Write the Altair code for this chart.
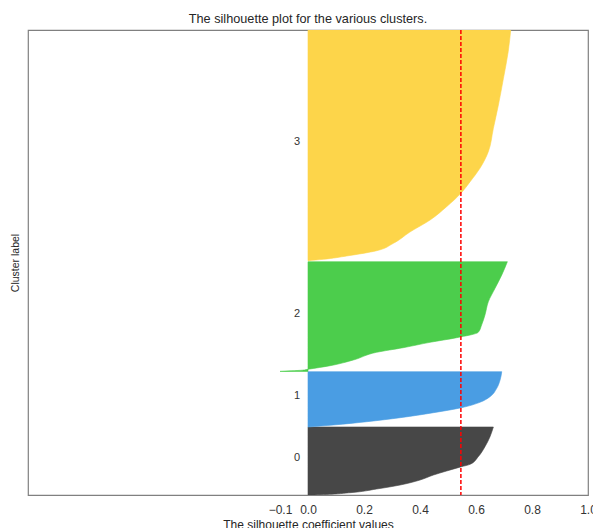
import altair as alt
import pandas as pd

# ---- data ----
cluster_labels = ["0", "1", "2", "3"]

# silhouette profile of each cluster: sample position (y) and silhouette value (x)
c0_pos = [0, 0.3, 2.3, 6, 10, 15, 20, 24, 28.3, 30.7, 38.3, 48.3, 58.3, 68]
c0_val = [0.0, 0.043, 0.15, 0.245, 0.329, 0.40, 0.448, 0.495, 0.548, 0.579, 0.608, 0.632, 0.650, 0.662]

c1_pos = [68, 70, 73.3, 77.3, 82.3, 87.3, 92.7, 98.3, 106.7, 115, 123.3]
c1_val = [0.0, 0.09, 0.21, 0.329, 0.448, 0.548, 0.614, 0.650, 0.674, 0.686, 0.692]

c2_pos = [123.6, 124.2, 124.8, 125.7, 129.3, 135, 142.7, 147.3, 152.7, 157.3, 162.7, 170, 180, 193.3, 206.7, 220, 233.3]
c2_val = [-0.10, -0.06, -0.02, 0.0, 0.079, 0.162, 0.245, 0.340, 0.436, 0.531, 0.608, 0.620, 0.632, 0.644, 0.668, 0.692, 0.712]

c3_pos = [234.3, 235.7, 239, 244.3, 251.7, 263, 275, 288.3, 301.7, 313.3, 326.7, 343.3, 366.7, 390, 416.7, 443.3, 465]
c3_val = [0.0, 0.055, 0.138, 0.245, 0.305, 0.364, 0.436, 0.495, 0.546, 0.579, 0.614, 0.644, 0.662, 0.680, 0.698, 0.715, 0.724]

silhouette_avg = 0.546
x_ticks = [-0.1, 0.0, 0.2, 0.4, 0.6, 0.8, 1.0]
colors = ["#474747", "#4a9de3", "#4ccd4c", "#fdd54a"]

FONT = "Liberation Sans"

# ---- tables ----
rows = []
label_rows = []
for lab, pos, val in zip(cluster_labels, [c0_pos, c1_pos, c2_pos, c3_pos],
                         [c0_val, c1_val, c2_val, c3_val]):
    for p, v in zip(pos, val):
        rows.append({"cluster": lab, "pos": p, "value": v})
    label_rows.append({"cluster": lab, "x": -0.05, "y": (min(pos) + max(pos)) / 2})
df = pd.DataFrame(rows)
df_lab = pd.DataFrame(label_rows)
df_avg = pd.DataFrame({"avg": [silhouette_avg]})

x_scale = alt.Scale(domain=[-1, 1], nice=False, zero=False)
y_scale = alt.Scale(domain=[0, 465], nice=False, zero=False)

x_axis = alt.Axis(
    values=x_ticks, format=".1f", title="The silhouette coefficient values",
    grid=False, ticks=False, tickSize=0, domain=False, labelPadding=9.5,
    labelFont=FONT, labelFontSize=12, labelColor="#333333",
    labelFlush=False, labelOverlap=False,
    titleFont=FONT, titleFontSize=12, titleFontWeight="normal",
    titleColor="#262626", titlePadding=3.5,
)
y_axis = alt.Axis(
    labels=False, ticks=False, tickSize=0, domain=False, grid=False,
    title="Cluster label", titleFont=FONT, titleFontSize=10.5,
    titleFontWeight="normal", titleColor="#262626", titlePadding=8,
)

area = alt.Chart(df).mark_area(orient="horizontal", interpolate="monotone",
                               strokeWidth=0.6, clip=True).encode(
    y=alt.Y("pos:Q", scale=y_scale, axis=y_axis),
    x=alt.X("value:Q", scale=x_scale, axis=x_axis, stack=None),
    color=alt.Color("cluster:N", scale=alt.Scale(domain=cluster_labels, range=colors), legend=None),
    stroke=alt.Stroke("cluster:N", scale=alt.Scale(domain=cluster_labels, range=colors), legend=None),
)

text = alt.Chart(df_lab).mark_text(
    align="left", baseline="alphabetic", font=FONT, fontSize=11, color="#333333"
).encode(
    x=alt.X("x:Q", scale=x_scale),
    y=alt.Y("y:Q", scale=y_scale),
    text="cluster:N",
)

rule = alt.Chart(df_avg).mark_rule(color="red", strokeDash=[4, 2], strokeWidth=1.5).encode(
    x=alt.X("avg:Q", scale=x_scale)
)

chart = alt.layer(area, rule, text).properties(
    width=560, height=465,
    title=alt.TitleParams("The silhouette plot for the various clusters.",
                          font=FONT, fontSize=12.7, fontWeight="normal",
                          color="#262626", anchor="middle", offset=4),
    padding={"left": 28, "top": 30, "right": 5, "bottom": 33},
    autosize=alt.AutoSizeParams(type="none"),
).configure_view(stroke="#808080", strokeWidth=1.2)

chart.save("out.html", embed_options={"renderer": "svg", "actions": False})
